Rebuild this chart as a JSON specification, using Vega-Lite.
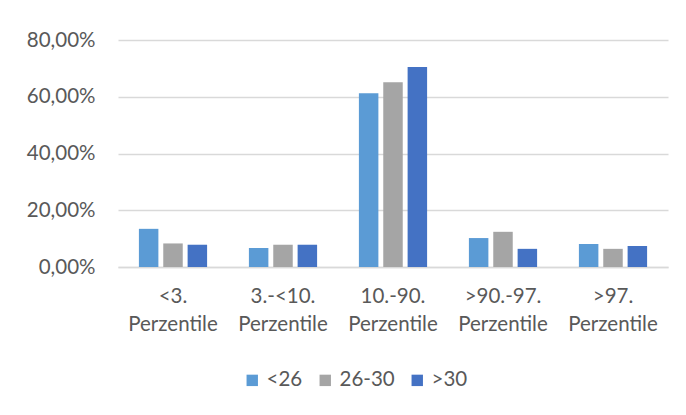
{
  "$schema": "https://vega.github.io/schema/vega-lite/v6.json",
  "autosize": "none",
  "width": 550,
  "height": 227,
  "padding": {"left": 118, "top": 40, "right": 18, "bottom": 148},
  "background": "white",
  "config": {
    "view": {"stroke": null},
    "font": "Lato",
    "axis": {"labelFont": "Lato", "labelColor": "#595959", "labelFontSize": 20.5},
    "legend": {"labelFont": "Lato", "labelColor": "#595959", "labelFontSize": 20.5}
  },
  "data": {
    "values": [
      {"cat": "<3. Perzentile", "grp": "<26", "v": 0.1345},
      {"cat": "<3. Perzentile", "grp": "26-30", "v": 0.083},
      {"cat": "<3. Perzentile", "grp": ">30", "v": 0.0785},
      {"cat": "3.-<10. Perzentile", "grp": "<26", "v": 0.067},
      {"cat": "3.-<10. Perzentile", "grp": "26-30", "v": 0.0785},
      {"cat": "3.-<10. Perzentile", "grp": ">30", "v": 0.0785},
      {"cat": "10.-90. Perzentile", "grp": "<26", "v": 0.612},
      {"cat": "10.-90. Perzentile", "grp": "26-30", "v": 0.651},
      {"cat": "10.-90. Perzentile", "grp": ">30", "v": 0.705},
      {"cat": ">90.-97. Perzentile", "grp": "<26", "v": 0.102},
      {"cat": ">90.-97. Perzentile", "grp": "26-30", "v": 0.124},
      {"cat": ">90.-97. Perzentile", "grp": ">30", "v": 0.064},
      {"cat": ">97. Perzentile", "grp": "<26", "v": 0.081},
      {"cat": ">97. Perzentile", "grp": "26-30", "v": 0.064},
      {"cat": ">97. Perzentile", "grp": ">30", "v": 0.074}
    ]
  },
  "mark": {"type": "bar"},
  "encoding": {
    "x": {
      "field": "cat", "type": "nominal", "sort": null,
      "scale": {"paddingInner": 0.38, "paddingOuter": 0.19},
      "axis": {
        "title": null, "labelAngle": 0, "ticks": false,
        "domainColor": "#d9d9d9", "domainWidth": 1.5,
        "labelPadding": 19, "labelLineHeight": 28,
        "labelExpr": "split(datum.label, ' ')"
      }
    },
    "xOffset": {
      "field": "grp", "type": "nominal", "sort": ["<26", "26-30", ">30"],
      "scale": {"paddingInner": 0.2, "paddingOuter": 0}
    },
    "y": {
      "field": "v", "type": "quantitative",
      "scale": {"domain": [0, 0.8]},
      "axis": {
        "title": null, "values": [0, 0.2, 0.4, 0.6, 0.8],
        "labelExpr": "replace(format(datum.value * 100, '.2f'), '.', ',') + '%'",
        "domain": false, "ticks": false, "labelPadding": 23,
        "gridColor": "#d9d9d9", "gridWidth": 1.5
      }
    },
    "color": {
      "field": "grp", "type": "nominal", "sort": ["<26", "26-30", ">30"],
      "scale": {"domain": ["<26", "26-30", ">30"], "range": ["#5B9BD5", "#A5A5A5", "#4472C4"]},
      "legend": {
        "title": null, "orient": "none", "direction": "horizontal",
        "legendX": 124, "legendY": 330,
        "symbolType": "square", "symbolSize": 130, "symbolStrokeWidth": 0,
        "symbolOpacity": 1, "columnPadding": 12, "labelOffset": 4
      }
    }
  }
}
